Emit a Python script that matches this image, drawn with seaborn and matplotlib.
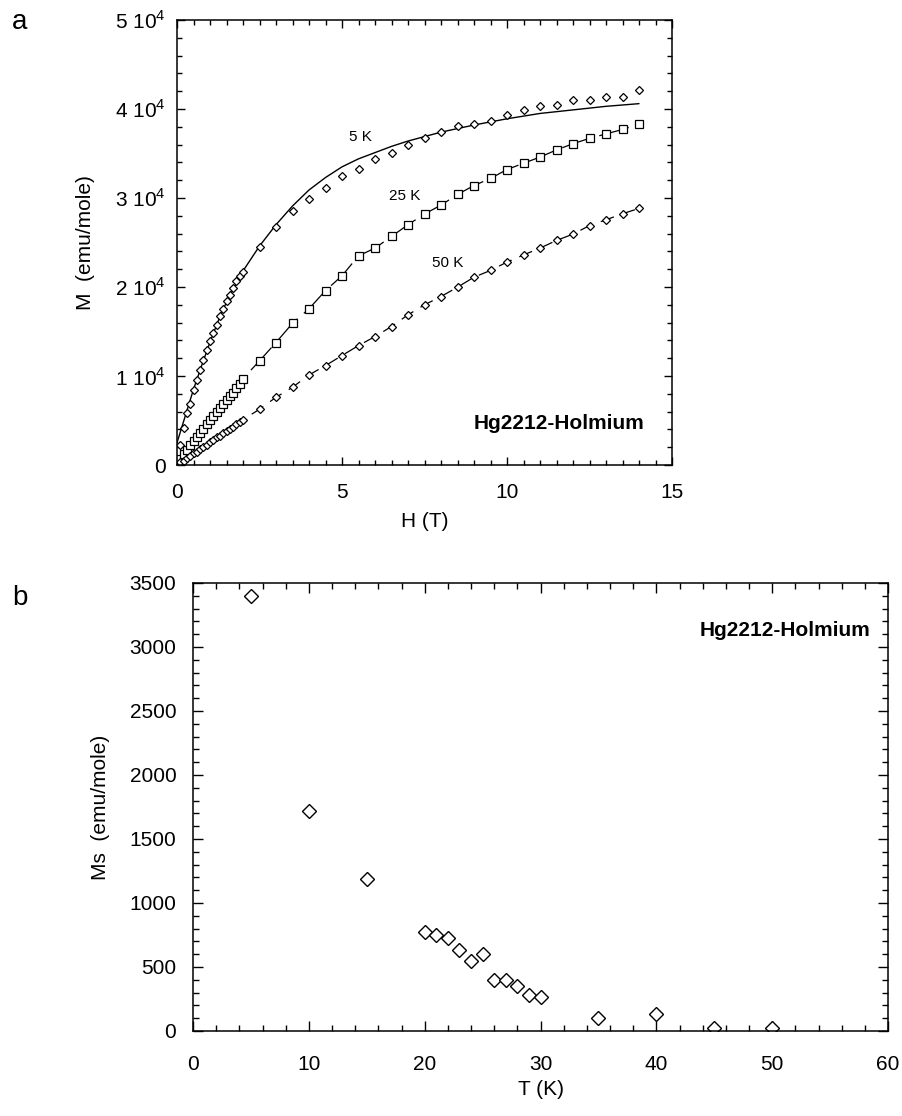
import matplotlib
matplotlib.use("Agg")
import matplotlib.pyplot as plt
from matplotlib.ticker import MultipleLocator, FixedLocator, FixedFormatter
import seaborn as sns

# ---------------- data : panel a ----------------
# 5 K data (diamonds)
H_5K = [0.1, 0.2, 0.3, 0.4, 0.5, 0.6, 0.7, 0.8, 0.9, 1.0, 1.1, 1.2, 1.3, 1.4, 1.5,
        1.6, 1.7, 1.8, 1.9, 2.0,
        2.5, 3.0, 3.5, 4.0, 4.5, 5.0, 5.5, 6.0, 6.5, 7.0, 7.5, 8.0, 8.5, 9.0, 9.5,
        10.0, 10.5, 11.0, 11.5, 12.0, 12.5, 13.0, 13.5, 14.0]
M_5K = [2200, 4200, 5800, 6900, 8400, 9600, 10700, 11800, 12900, 13900, 14800,
        15700, 16700, 17500, 18400, 19100, 19900, 20700, 21200, 21700,
        24500, 26700, 28500, 29900, 31100, 32500, 33300, 34400, 35050, 36000,
        36700, 37400, 38100, 38300, 38700, 39300, 39850, 40300, 40400, 41000,
        41050, 41350, 41400, 42100]

# 5 K fit curve (solid line)
H_fit = [0.0, 0.25, 0.5, 0.75, 1.0, 1.25, 1.5, 1.75, 2.0, 2.5, 3.0, 3.5, 4.0,
         4.5, 5.0, 5.5, 6.0, 6.5, 7.0, 7.5, 8.0, 8.5, 9.0, 10.0, 11.0, 12.0,
         13.0, 14.0]
M_fit = [2500, 5500, 8500, 11200, 13800, 16200, 18300, 20100, 21800, 24600,
         27000, 29100, 30900, 32300, 33500, 34400, 35100, 35800, 36400, 36900,
         37400, 37800, 38200, 38900, 39500, 39900, 40300, 40600]

# 25 K data (squares)
H_25K = [0.05, 0.1, 0.2, 0.3, 0.4, 0.5, 0.6, 0.7, 0.8, 0.9, 1.0, 1.1, 1.2, 1.3,
         1.4, 1.5, 1.6, 1.7, 1.8, 1.9, 2.0,
         2.5, 3.0, 3.5, 4.0, 4.5, 5.0, 5.5, 6.0, 6.5, 7.0, 7.5, 8.0, 8.5, 9.0,
         9.5, 10.0, 10.5, 11.0, 11.5, 12.0, 12.5, 13.0, 13.5, 14.0]
M_25K = [400, 700, 1200, 1700, 2200, 2700, 3200, 3600, 4100, 4600, 5100, 5500,
         6000, 6400, 6800, 7300, 7700, 8100, 8600, 9100, 9700,
         11700, 13760, 15930, 17550, 19600, 21260, 23500, 24370, 25680, 27000,
         28200, 29200, 30400, 31400, 32200, 33200, 33900, 34600, 35400, 36100,
         36700, 37200, 37700, 38300]

# 50 K data (small diamonds)
H_50K = [0.05, 0.1, 0.2, 0.3, 0.4, 0.5, 0.6, 0.7, 0.8, 0.9, 1.0, 1.1, 1.2, 1.3,
         1.4, 1.5, 1.6, 1.7, 1.8, 1.9, 2.0,
         2.5, 3.0, 3.5, 4.0, 4.5, 5.0, 5.5, 6.0, 6.5, 7.0, 7.5, 8.0, 8.5, 9.0,
         9.5, 10.0, 10.5, 11.0, 11.5, 12.0, 12.5, 13.0, 13.5, 14.0]
M_50K = [100, 300, 500, 800, 1000, 1300, 1500, 1800, 2000, 2300, 2600, 2800,
         3100, 3300, 3600, 3800, 4100, 4300, 4600, 4800, 5100,
         6260, 7610, 8730, 10120, 11170, 12300, 13420, 14430, 15560, 16870,
         18000, 18930, 19980, 21100, 21860, 22800, 23600, 24370, 25230, 25940,
         26900, 27550, 28230, 28830]

# ---------------- data : panel b ----------------
T_b = [5, 10, 15, 20, 21, 22, 23, 24, 25, 26, 27, 28, 29, 30, 35, 40, 45, 50]
Ms_b = [3400, 1720, 1190, 770, 750, 725, 635, 550, 600, 400, 395, 355, 280,
        265, 100, 130, 20, 25]

# tick labels
a_yticks = [0, 10000, 20000, 30000, 40000, 50000]
a_yticklabels = ["0", r"1 10$^4$", r"2 10$^4$", r"3 10$^4$", r"4 10$^4$", r"5 10$^4$"]
a_xticks = [0, 5, 10, 15]
b_xticks = [0, 10, 20, 30, 40, 50, 60]
b_yticks = [0, 500, 1000, 1500, 2000, 2500, 3000, 3500]

# ---------------- style ----------------
sns.set_theme(style="ticks")
plt.rcParams["font.family"] = ["Liberation Sans", "DejaVu Sans"]
plt.rcParams["mathtext.fontset"] = "custom"
plt.rcParams["mathtext.rm"] = "Liberation Sans"
plt.rcParams["lines.scale_dashes"] = False
plt.rcParams["text.color"] = "black"
plt.rcParams["axes.labelcolor"] = "black"
plt.rcParams["xtick.color"] = "black"
plt.rcParams["ytick.color"] = "black"

fig = plt.figure(figsize=(9.02, 11.16), dpi=100)
W, Hh = 902, 1116
def axrect(l, r, t, b):
    return [l / W, 1 - b / Hh, (r - l) / W, (b - t) / Hh]

axa = fig.add_axes(axrect(177, 672, 20, 465))
axb = fig.add_axes(axrect(193, 888, 583, 1031))

k = "black"
FS = 15

# panel a lines
sns.lineplot(x=H_fit, y=M_fit, ax=axa, color=k, lw=1.0, estimator=None, sort=False)
sns.lineplot(x=H_25K, y=M_25K, ax=axa, color=k, lw=0.9, estimator=None, sort=False,
             linestyle=(0, (22, 6)))
sns.lineplot(x=H_50K, y=M_50K, ax=axa, color=k, lw=0.9, estimator=None, sort=False,
             linestyle=(0, (10, 6)))

# panel a markers
sns.lineplot(x=H_5K, y=M_5K, ax=axa, estimator=None, sort=False, linestyle="none",
             marker="D", markersize=4.3, markerfacecolor="white",
             markeredgecolor=k, markeredgewidth=0.9, color=k)
sns.lineplot(x=H_25K, y=M_25K, ax=axa, estimator=None, sort=False, linestyle="none",
             marker="s", markersize=6.3, markerfacecolor="white",
             markeredgecolor=k, markeredgewidth=0.9, color=k)
sns.lineplot(x=H_50K, y=M_50K, ax=axa, estimator=None, sort=False, linestyle="none",
             marker="D", markersize=3.6, markerfacecolor="white",
             markeredgecolor=k, markeredgewidth=0.9, color=k)

axa.set_xlim(0, 15)
axa.set_ylim(0, 50000)
axa.xaxis.set_major_locator(FixedLocator(a_xticks))
axa.xaxis.set_minor_locator(MultipleLocator(0.5))
axa.yaxis.set_major_locator(FixedLocator(a_yticks))
axa.yaxis.set_major_formatter(FixedFormatter(a_yticklabels))
axa.yaxis.set_minor_locator(MultipleLocator(2000))
axa.tick_params(which="both", direction="in", top=True, right=True, colors=k,
                labelsize=FS, width=1.0)
axa.tick_params(which="major", length=6)
axa.tick_params(which="minor", length=3.5)
axa.tick_params(axis="x", which="major", pad=13)
axa.tick_params(axis="y", which="major", pad=8)
axa.set_xlabel("H (T)", fontsize=FS)
axa.set_ylabel("M  (emu/mole)", fontsize=FS)
axa.xaxis.set_label_coords(0.5, -0.106)
axa.yaxis.set_label_coords(-0.166, 0.5)

axa.text(5.55, 36800, "5 K", fontsize=11, ha="center", va="center")
axa.text(6.9, 30200, "25 K", fontsize=11, ha="center", va="center")
axa.text(8.2, 22700, "50 K", fontsize=11, ha="center", va="center")
axa.text(0.945, 0.094, "Hg2212-Holmium", transform=axa.transAxes, fontsize=15,
         fontweight="bold", ha="right", va="center")

# panel b
sns.lineplot(x=T_b, y=Ms_b, ax=axb, estimator=None, sort=False, linestyle="none",
             marker="D", markersize=7.5, markerfacecolor="white",
             markeredgecolor=k, markeredgewidth=1.0, color=k)
axb.set_xlim(0, 60)
axb.set_ylim(0, 3500)
axb.xaxis.set_major_locator(FixedLocator(b_xticks))
axb.xaxis.set_minor_locator(MultipleLocator(2))
axb.yaxis.set_major_locator(FixedLocator(b_yticks))
axb.yaxis.set_minor_locator(MultipleLocator(100))
axb.tick_params(which="both", direction="in", top=True, right=True, colors=k,
                labelsize=FS, width=1.0)
axb.tick_params(which="major", length=7.5)
axb.tick_params(which="minor", length=4.5)
axb.tick_params(axis="x", which="major", pad=17)
axb.tick_params(axis="y", which="major", pad=12)
axb.set_xlabel("T (K)", fontsize=FS)
axb.set_ylabel("Ms  (emu/mole)", fontsize=FS)
axb.xaxis.set_label_coords(0.5, -0.11)
axb.yaxis.set_label_coords(-0.12, 0.5)
axb.text(0.974, 0.895, "Hg2212-Holmium", transform=axb.transAxes, fontsize=15,
         fontweight="bold", ha="right", va="center")

for ax in (axa, axb):
    for s in ax.spines.values():
        s.set_visible(True)
        s.set_linewidth(1.1)
        s.set_color(k)

fig.text(20 / W, 1 - 22 / Hh, "a", fontsize=20, ha="center", va="center")
fig.text(20 / W, 1 - 598 / Hh, "b", fontsize=20, ha="center", va="center")

fig.savefig("out.png", dpi=100, facecolor="white")
